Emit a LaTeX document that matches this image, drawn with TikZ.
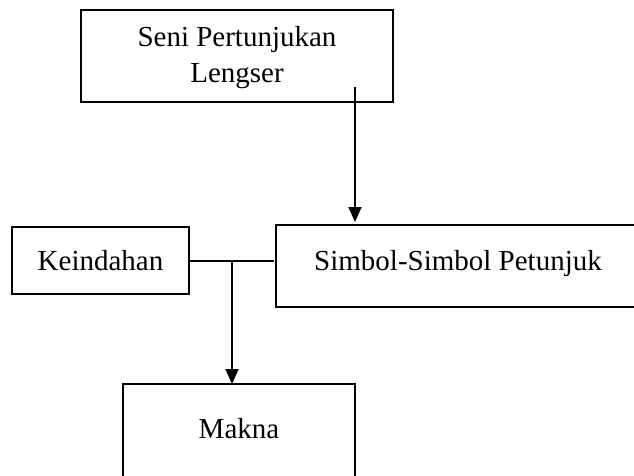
\documentclass[tikz,border=0pt]{standalone}
\usepackage{fontspec}
\setmainfont{Liberation Serif}
\usetikzlibrary{arrows.meta}
\begin{document}
\begin{tikzpicture}[x=1pt,y=-1pt,
  box/.style={draw=black,line width=1.7pt,inner sep=0pt,outer sep=0pt,rectangle},
  lbl/.style={inner sep=0pt,outer sep=0pt,anchor=base,font=\fontsize{29}{35}\selectfont},
  conn/.style={draw=black,line width=1.7pt},
  arr/.style={conn,-{Triangle[length=15pt,width=13pt]}}]
\useasboundingbox (0,0) rectangle (634,476);
\clip (0,0) rectangle (634,476);
% boxes
\node[box,minimum width=312pt,minimum height=92pt] (seni) at (237,56) {};
\node[box,minimum width=177pt,minimum height=67pt] (keind) at (100.5,260.5) {};
\node[box,minimum width=364pt,minimum height=82pt] (simbol) at (458,266) {};
\node[box,minimum width=232pt,minimum height=96pt] (makna) at (239,432) {};
% texts
\node[lbl] (t1) at (237,47) {Seni Pertunjukan};
\node[lbl] (t2) at (237,83) {Lengser};
\node[lbl] (t3) at (100.5,270) {Keindahan};
\node[lbl] (t4) at (458,270) {Simbol-Simbol Petunjuk};
\node[lbl] (t5) at (239,438) {Makna};
% connectors
\coordinate (a1) at (355,87);
\coordinate (j) at (232,261);
\draw[arr,shorten >=3pt] (a1) -- (a1 |- simbol.north);
\draw[conn,shorten >=2.5pt] (keind.east |- j) -- (simbol.west |- j);
\draw[arr] (j) -- (j |- makna.north);
\end{tikzpicture}
\end{document}
